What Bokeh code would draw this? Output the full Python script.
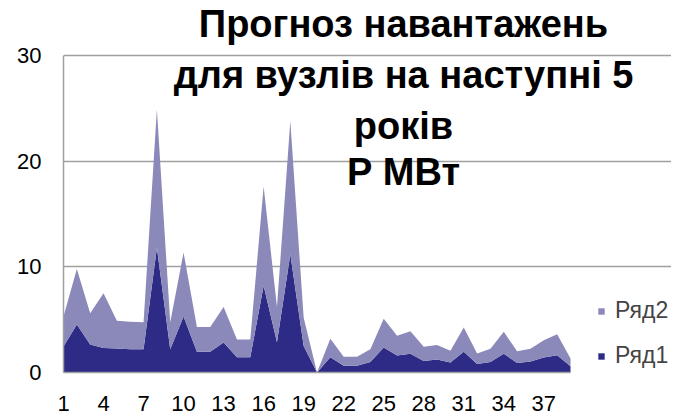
from bokeh.plotting import figure
from bokeh.models import Range1d, FixedTicker, Label, Legend, LegendItem, ColumnDataSource
from bokeh.embed import file_html
from bokeh.resources import INLINE

# ---- data ----
nodes = list(range(1, 40))
row1 = [2.46, 4.54, 2.65, 2.33, 2.27, 2.20, 2.20, 11.80, 2.20, 5.30,
        1.96, 1.96, 2.84, 1.45, 1.45, 8.20, 2.87, 11.20, 2.50, 0.00,
        1.45, 0.63, 0.63, 1.00, 2.37, 1.60, 1.77, 1.10, 1.23, 0.95,
        1.96, 0.80, 1.00, 1.77, 0.91, 1.04, 1.42, 1.64, 0.60]
row2 = [2.84, 5.26, 2.95, 5.17, 2.63, 2.60, 2.56, 13.10, 2.56, 6.05,
        2.34, 2.34, 3.36, 1.67, 1.67, 9.40, 3.33, 12.60, 2.70, 0.00,
        1.75, 0.85, 0.85, 1.20, 2.71, 1.87, 2.13, 1.33, 1.37, 1.10,
        2.30, 1.00, 1.24, 2.08, 1.09, 1.20, 1.64, 1.99, 0.72]
series_names = ["Ряд1", "Ряд2"]
x_tick_labels = [1, 4, 7, 10, 13, 16, 19, 22, 25, 28, 31, 34, 37]
y_ticks = [0, 10, 20, 30]
y_max = 30
title_lines = ["Прогноз навантажень", "для вузлів на наступні 5", "років", "Р МВт"]

DARK = "#2e2b86"
LIGHT = "#8a89b9"
GRID = "#a0a0a0"
FONT = "Liberation Sans"

# geometry (pixels)
FRAME_LEFT = 63
FRAME_W = 608
FRAME_H = 372
PX_X = 507.0 / (nodes[-1] - nodes[0])   # px per category on the visible plot area
PX_Y = 317.0 / y_max                     # px per unit

x_end = nodes[0] + FRAME_W / PX_X
y_end = FRAME_H / PX_Y

p = figure(frame_width=FRAME_W, frame_height=FRAME_H,
           min_border_left=FRAME_LEFT, min_border_right=0,
           min_border_top=0, min_border_bottom=47,
           x_range=Range1d(nodes[0], x_end), y_range=Range1d(0, y_end),
           output_backend="svg", toolbar_location=None)
p.outline_line_color = None
p.background_fill_color = "white"
p.border_fill_color = "white"

src = ColumnDataSource(dict(x=nodes, r1=row1, r2=row2))
rs = p.varea_stack(["r1", "r2"], x="x", source=src, color=[DARK, LIGHT])

# grid
p.xgrid.visible = False
p.ygrid.grid_line_color = GRID
p.ygrid.grid_line_width = 1.5
p.ygrid.ticker = FixedTicker(ticks=y_ticks)
p.ygrid.bounds = (nodes[0], nodes[-1])

# axes
p.yaxis.ticker = FixedTicker(ticks=y_ticks)
p.yaxis.bounds = (0, y_max)
p.xaxis.ticker = FixedTicker(ticks=x_tick_labels)
p.xaxis.bounds = (nodes[0], nodes[-1])
for ax in (p.xaxis[0], p.yaxis[0]):
    ax.axis_line_color = GRID
    ax.axis_line_width = 1.5
    ax.major_tick_line_color = None
    ax.minor_tick_line_color = None
    ax.major_label_text_font = FONT
    ax.major_label_text_font_size = "22px"
    ax.major_label_text_color = "black"
p.yaxis.major_label_standoff = 16
p.xaxis.major_label_standoff = 17

# title lines
title_x = nodes[0] + (403 - FRAME_LEFT) / PX_X
title_ys = [33.0, 28.2, 23.3, 19.0]
for txt, ty in zip(title_lines, title_ys):
    p.add_layout(Label(x=title_x, y=ty, text=txt, text_font=FONT,
                       text_font_size="38px", text_font_style="bold",
                       text_color="black", text_align="center",
                       text_baseline="alphabetic"))

legend = Legend(items=[LegendItem(label=series_names[1], renderers=[rs[1]]),
                       LegendItem(label=series_names[0], renderers=[rs[0]])],
                location=(534, 3), orientation="vertical",
                glyph_width=8, glyph_height=8, label_height=20,
                label_standoff=10, spacing=18, padding=0, margin=0,
                label_text_font=FONT, label_text_font_size="23px",
                background_fill_alpha=0, border_line_color=None)
p.add_layout(legend)

open("out.html", "w").write(file_html(p, INLINE))
